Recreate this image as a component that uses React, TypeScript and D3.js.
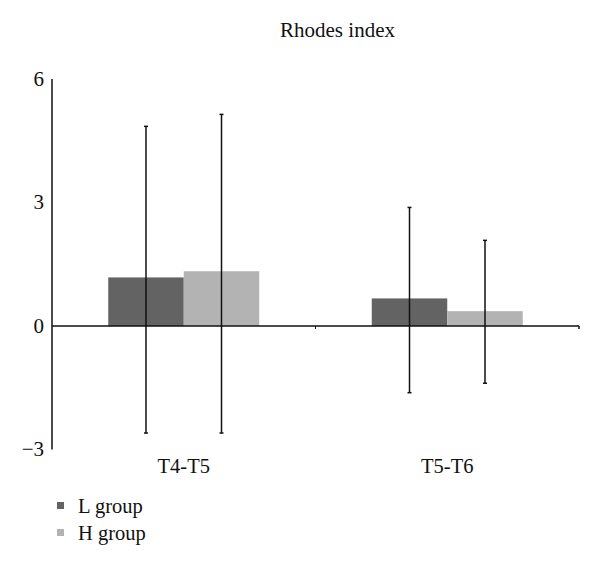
import React from "react";
import * as d3 from "d3";

const categories = ["T4-T5", "T5-T6"];
const seriesNames = ["L group", "H group"];
const lValues = [1.18, 0.67];
const hValues = [1.33, 0.36];
const lUpper = [4.85, 2.88];
const lLower = [-2.6, -1.62];
const hUpper = [5.14, 2.08];
const hLower = [-2.6, -1.39];
const yTicks = [-3, 0, 3, 6];
const colors = ["#636363", "#b3b3b3"];

const W = 600;
const H = 565;
const FONT = "'Liberation Serif', 'Times New Roman', serif";

export default function App() {
  const x0 = d3.scaleBand<string>().domain(categories).range([52, 579]).paddingInner(0).paddingOuter(0);
  const x1 = d3
    .scaleBand<string>()
    .domain(seriesNames)
    .range([0, x0.bandwidth()])
    .paddingInner(0)
    .paddingOuter(0.745);
  const y = d3.scaleLinear().domain([-3, 6]).range([449.5, 79]);

  const series = [
    { name: seriesNames[0], values: lValues, up: lUpper, lo: lLower, color: colors[0] },
    { name: seriesNames[1], values: hValues, up: hUpper, lo: hLower, color: colors[1] },
  ];

  const fmt = (v: number) => (v < 0 ? "\u2212" + Math.abs(v) : String(v));

  return (
    <svg width={W} height={H} style={{ display: "block", position: "absolute", left: 0, top: 0 }}>
      <rect width={W} height={H} fill="#fff" />
      <text x={337.5} y={37} textAnchor="middle" fontFamily={FONT} fontSize={21} fill="#111">
        Rhodes index
      </text>
      {/* bars */}
      {series.map((s) =>
        categories.map((c, i) => {
          const bx = (x0(c) ?? 0) + (x1(s.name) ?? 0);
          const v = s.values[i];
          return (
            <rect
              key={s.name + c}
              x={bx}
              y={Math.min(y(v), y(0))}
              width={x1.bandwidth()}
              height={Math.abs(y(v) - y(0))}
              fill={s.color}
            />
          );
        })
      )}
      {/* zero axis */}
      <line x1={52} x2={579} y1={y(0)} y2={y(0)} stroke="#111" strokeWidth={1.5} />
      {categories.map((c, i) =>
        i > 0 ? (
          <line key={c} x1={x0(c)} x2={x0(c)} y1={y(0)} y2={y(0) + 3} stroke="#111" strokeWidth={1} />
        ) : null
      )}
      <line x1={579} x2={579} y1={y(0)} y2={y(0) + 3} stroke="#111" strokeWidth={1.5} />
      {/* y axis */}
      <line x1={52} x2={52} y1={y(6)} y2={y(-3)} stroke="#111" strokeWidth={1.5} />
      {yTicks.map((t) => (
        <text
          key={t}
          x={44}
          y={y(t) + 6.5}
          textAnchor="end"
          fontFamily={FONT}
          fontSize={21}
          fill="#111"
        >
          {fmt(t)}
        </text>
      ))}
      {/* error bars */}
      {series.map((s) =>
        categories.map((c, i) => {
          const cx = (x0(c) ?? 0) + (x1(s.name) ?? 0) + x1.bandwidth() / 2;
          return (
            <g key={"e" + s.name + c} stroke="#111">
              <line x1={cx} x2={cx} y1={y(s.up[i])} y2={y(s.lo[i])} strokeWidth={1.5} />
              <line x1={cx - 2} x2={cx + 2} y1={y(s.up[i])} y2={y(s.up[i])} strokeWidth={1.5} />
              <line x1={cx - 2} x2={cx + 2} y1={y(s.lo[i])} y2={y(s.lo[i])} strokeWidth={1.5} />
            </g>
          );
        })
      )}
      {/* category labels */}
      {categories.map((c) => (
        <text
          key={"l" + c}
          x={(x0(c) ?? 0) + x0.bandwidth() / 2}
          y={473}
          textAnchor="middle"
          fontFamily={FONT}
          fontSize={20.5}
          fill="#111"
        >
          {c}
        </text>
      ))}
      {/* legend */}
      {series.map((s, i) => (
        <g key={"lg" + s.name} transform={`translate(57, ${502 + i * 27})`}>
          <rect x={0} y={0} width={7} height={7} fill={s.color} />
          <text x={21} y={11} fontFamily={FONT} fontSize={20.5} fill="#111">
            {s.name}
          </text>
        </g>
      ))}
    </svg>
  );
}
